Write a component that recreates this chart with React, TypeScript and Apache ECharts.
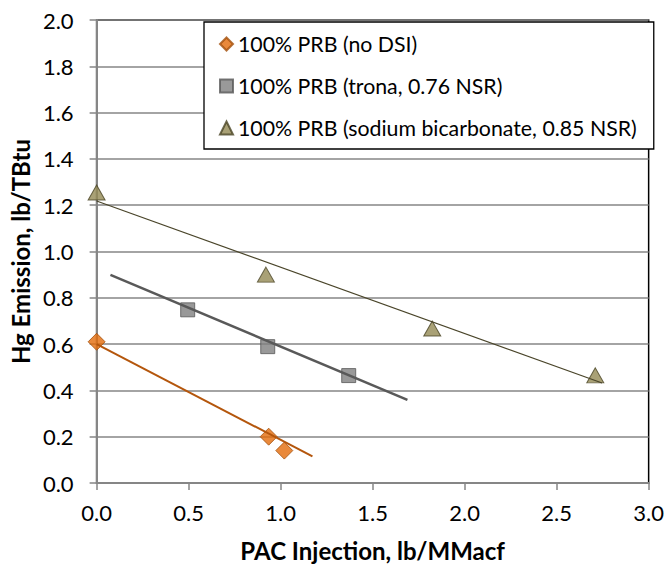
import React, { useEffect, useRef } from "react";
import * as echarts from "echarts";

const seriesNames = [
  "100% PRB (no DSI)",
  "100% PRB (trona, 0.76 NSR)",
  "100% PRB (sodium bicarbonate, 0.85 NSR)",
];

const noDsiX = [0, 0.935, 1.02];
const noDsiY = [0.61, 0.2, 0.14];
const tronaX = [0.495, 0.93, 1.37];
const tronaY = [0.748, 0.589, 0.464];
const sbcX = [0, 0.92, 1.824, 2.71];
const sbcY = [1.255, 0.9, 0.667, 0.465];

const noDsiTrendX = [0, 1.173];
const noDsiTrendY = [0.6, 0.115];
const tronaTrendX = [0.075, 1.689];
const tronaTrendY = [0.899, 0.359];
const sbcTrendX = [0, 2.747];
const sbcTrendY = [1.218, 0.432];

const xTicks = ["0.0", "0.5", "1.0", "1.5", "2.0", "2.5", "3.0"];

const zip = (xs: number[], ys: number[]) => xs.map((x, i) => [x, ys[i]]);

const FONT = "Lato";

export default function App() {
  const ref = useRef<HTMLDivElement>(null);
  useEffect(() => {
    if (!ref.current) return;
    const chart = echarts.init(ref.current, undefined, { renderer: "svg" });
    const axisGray = "#868686";
    chart.setOption({
      animation: false,
      backgroundColor: "#ffffff",
      grid: {
        left: 96,
        top: 20,
        right: 15,
        bottom: 79,
        show: true,
        borderColor: "#000000",
        borderWidth: 1.5,
        backgroundColor: "transparent",
      },
      legend: {
        orient: "vertical",
        left: 204,
        top: 22,
        backgroundColor: "#ffffff",
        borderColor: "#000000",
        borderWidth: 1.3,
        padding: [11, 17, 10, 15],
        itemGap: 20,
        itemWidth: 13,
        itemHeight: 13,
        itemTextGap: 5,
        data: seriesNames,
        textStyle: { fontFamily: FONT, fontSize: 21.3, lineHeight: 22, color: "#000000" },
      },
      xAxis: {
        type: "value",
        min: 0,
        max: 3,
        interval: 0.5,
        name: "PAC Injection, lb/MMacf",
        nameLocation: "middle",
        nameGap: 55,
        nameTextStyle: { fontFamily: FONT, fontSize: 24, fontWeight: "bold", color: "#000000" },
        axisLine: { show: true, lineStyle: { color: axisGray, width: 2 } },
        axisTick: { show: true, inside: false, length: 7, lineStyle: { color: axisGray, width: 1.5 } },
        axisLabel: {
          fontFamily: FONT,
          fontSize: 22,
          color: "#000000",
          margin: 18,
          formatter: (v: number) => xTicks[Math.round(v / 0.5)] ?? v.toFixed(1),
        },
        splitLine: { show: false },
      },
      yAxis: {
        type: "value",
        min: 0,
        max: 2,
        interval: 0.2,
        name: "Hg Emission, lb/TBtu",
        nameLocation: "middle",
        nameGap: 61,
        nameTextStyle: { fontFamily: FONT, fontSize: 24, fontWeight: "bold", color: "#000000" },
        axisLine: { show: true, lineStyle: { color: axisGray, width: 2 } },
        axisTick: { show: true, inside: false, length: 7, lineStyle: { color: axisGray, width: 1.5 } },
        axisLabel: {
          fontFamily: FONT,
          fontSize: 22,
          color: "#000000",
          margin: 23,
          formatter: (v: number) => v.toFixed(1),
        },
        splitLine: { show: true, lineStyle: { color: axisGray, width: 1.5 } },
      },
      series: [
        {
          name: seriesNames[0],
          type: "scatter",
          symbol: "diamond",
          symbolSize: [17, 17],
          data: zip(noDsiX, noDsiY),
          itemStyle: { color: "#E46C0A", borderColor: "#A3500D", borderWidth: 1 },
          z: 3,
        },
        {
          name: seriesNames[1],
          type: "scatter",
          symbol: "rect",
          symbolSize: [14, 14],
          data: zip(tronaX, tronaY),
          itemStyle: { color: "#808080", borderColor: "#575757", borderWidth: 1 },
          z: 3,
        },
        {
          name: seriesNames[2],
          type: "scatter",
          symbol: "triangle",
          symbolSize: [17, 15],
          data: zip(sbcX, sbcY),
          itemStyle: { color: "#948A54", borderColor: "#4A4526", borderWidth: 1 },
          z: 3,
        },
        {
          name: "noDsiTrend",
          type: "line",
          data: zip(noDsiTrendX, noDsiTrendY),
          showSymbol: false,
          symbol: "none",
          lineStyle: { color: "#B4560C", width: 2 },
          z: 4,
          silent: true,
        },
        {
          name: "tronaTrend",
          type: "line",
          data: zip(tronaTrendX, tronaTrendY),
          showSymbol: false,
          symbol: "none",
          lineStyle: { color: "#595959", width: 2.5 },
          z: 4,
          silent: true,
        },
        {
          name: "sbcTrend",
          type: "line",
          data: zip(sbcTrendX, sbcTrendY),
          showSymbol: false,
          symbol: "none",
          lineStyle: { color: "#4A452A", width: 1.2 },
          z: 4,
          silent: true,
        },
      ],
    });
    return () => chart.dispose();
  }, []);
  return (
    <div
      ref={ref}
      style={{ position: "fixed", left: 0, top: 0, width: 667, height: 567 }}
    />
  );
}
